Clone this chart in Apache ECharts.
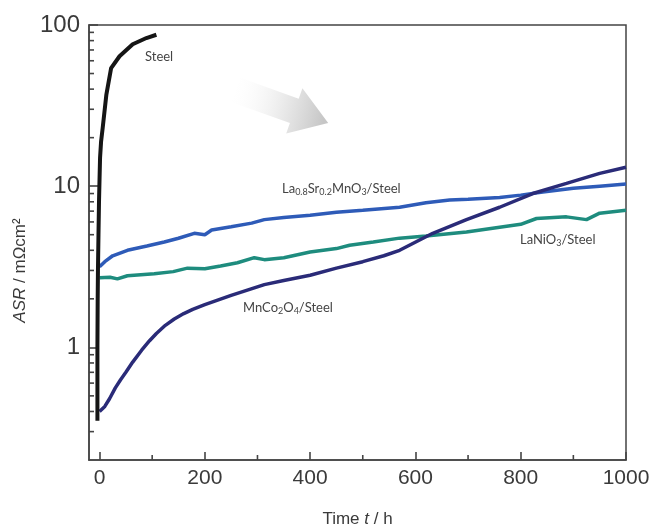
<!DOCTYPE html>
<html>
<head>
<meta charset="utf-8">
<script src="https://cdn.jsdelivr.net/npm/echarts@6/dist/echarts.min.js"></script>
<style>
  html, body { margin: 0; padding: 0; background: #fff; }
  #chart { width: 656px; height: 527px; }
</style>
</head>
<body>
<div id="chart"></div>
<script>
// axis ranges / ticks
var xMin = -20
var xMax = 1000
var yMin = 0.2
var yMax = 100
var xTicks = [0, 200, 400, 600, 800, 1000]
var xMinorTicks = [100, 300, 500, 700, 900]
var yTicks = [1, 10, 100]
var yMinorTicks = [0.3, 0.4, 0.5, 0.6, 0.7, 0.8, 0.9, 2, 3, 4, 5, 6, 7, 8, 9, 20, 30, 40, 50, 60, 70, 80, 90]

// Steel
var steelT = [-4, -4, -3.5, -3, -2, -1, 0, 1, 3, 6, 13, 22, 38, 63, 89, 108]
var steelASR = [0.35, 1, 2, 3, 5, 8, 11, 15, 19, 23, 37, 54, 64, 76, 83, 87]

// La0.8Sr0.2MnO3/Steel
var lsmT = [0, 10, 25, 53, 90, 123, 150, 180, 200, 213, 250, 289, 313, 350, 400, 450, 500, 570, 620, 665, 700, 760, 800, 842, 900, 950, 1000]
var lsmASR = [3.16, 3.4, 3.7, 4.0, 4.25, 4.5, 4.75, 5.1, 5.0, 5.35, 5.6, 5.9, 6.2, 6.4, 6.6, 6.9, 7.1, 7.4, 7.9, 8.2, 8.3, 8.5, 8.8, 9.2, 9.7, 10.0, 10.3]

// LaNiO3/Steel
var lnoT = [0, 20, 34, 53, 104, 140, 167, 200, 230, 262, 294, 313, 350, 400, 450, 475, 520, 570, 620, 697, 750, 800, 830, 887, 925, 950, 1000]
var lnoASR = [2.7, 2.72, 2.66, 2.78, 2.86, 2.95, 3.1, 3.07, 3.2, 3.35, 3.6, 3.5, 3.6, 3.9, 4.1, 4.3, 4.5, 4.76, 4.9, 5.2, 5.5, 5.8, 6.3, 6.45, 6.2, 6.8, 7.1]

// MnCo2O4/Steel
var mcoT = [0, 10, 19, 30, 40, 50, 63, 80, 95, 108, 125, 142, 160, 177, 200, 250, 313, 350, 400, 450, 500, 540, 570, 633, 697, 760, 823, 887, 950, 1000]
var mcoASR = [0.40, 0.43, 0.48, 0.56, 0.63, 0.70, 0.81, 0.96, 1.1, 1.22, 1.37, 1.5, 1.62, 1.72, 1.84, 2.1, 2.45, 2.6, 2.8, 3.1, 3.4, 3.7, 4.0, 5.1, 6.2, 7.4, 9.0, 10.4, 12.0, 13.1]

function pairs (ts, vs) {
  return ts.map(function (t, i) { return [t, vs[i]] })
}

var axisColor = '#444'
var labelColor = '#3a3a3a'

function lineSeries (name, ts, vs, color, width) {
  return {
    name: name,
    type: 'line',
    data: pairs(ts, vs),
    showSymbol: false,
    lineStyle: { color: color, width: width },
    z: 3
  }
}

// small inward ticks drawn through the axes' own scales
function minorTickSeries (data, vertical) {
  return {
    type: 'custom',
    silent: true,
    clip: false,
    data: data,
    encode: { x: 0, y: 1 },
    renderItem: function (params, api) {
      var p = api.coord([api.value(0), api.value(1)])
      return {
        type: 'line',
        shape: vertical
          ? { x1: p[0], y1: p[1], x2: p[0], y2: p[1] - 5 }
          : { x1: p[0], y1: p[1], x2: p[0] + 5, y2: p[1] },
        style: { stroke: axisColor, lineWidth: 1.6 }
      }
    },
    z: 4
  }
}

var subStyle = { fontSize: 9, fontFamily: 'Lato', fill: '#444', padding: [7, 0, 0, 0] }

function note (x, y, text) {
  return {
    type: 'text',
    x: x,
    y: y,
    style: {
      text: text,
      font: '13px Lato',
      fill: '#444',
      verticalAlign: 'middle',
      rich: { s: subStyle }
    }
  }
}

var chart = echarts.init(document.getElementById('chart'))
var option = {
  animation: false,
  backgroundColor: '#fff',
  grid: {
    left: 89,
    right: 30,
    top: 25,
    bottom: 67,
    outerBoundsMode: 'none',
    containLabel: false,
    show: true,
    borderColor: axisColor,
    borderWidth: 1.5
  },
  xAxis: {
    type: 'value',
    min: xMin,
    max: xMax,
    name: 'Time {i|t} / h',
    nameLocation: 'middle',
    nameGap: 51,
    nameTextStyle: {
      fontFamily: 'Liberation Sans',
      fontSize: 17,
      color: labelColor,
      rich: { i: { fontStyle: 'italic', fontFamily: 'Liberation Sans', fontSize: 17, color: labelColor } }
    },
    axisLine: { onZero: false, lineStyle: { color: axisColor, width: 1.5 } },
    axisTick: { inside: true, length: 8, customValues: xTicks, lineStyle: { color: axisColor, width: 1.6 } },
    axisLabel: {
      customValues: xTicks,
      formatter: function (v) { return String(v) },
      fontFamily: 'Liberation Sans',
      fontSize: 21,
      color: labelColor,
      margin: 8
    },
    splitLine: { show: false }
  },
  yAxis: {
    type: 'log',
    logBase: 10,
    min: yMin,
    max: yMax,
    name: '{i|ASR} / mΩcm²',
    nameLocation: 'middle',
    nameGap: 60,
    nameRotate: 90,
    nameTextStyle: {
      fontFamily: 'Liberation Sans',
      fontSize: 17,
      color: labelColor,
      padding: [0, 56, 0, 0],
      rich: { i: { fontStyle: 'italic', fontFamily: 'Liberation Sans', fontSize: 17, color: labelColor } }
    },
    axisLine: { show: true, onZero: false, lineStyle: { color: axisColor, width: 1.5 } },
    axisTick: { show: true, inside: true, length: 9, customValues: yTicks, lineStyle: { color: axisColor, width: 1.6 } },
    axisLabel: {
      customValues: yTicks,
      formatter: function (v) { return String(v) },
      fontFamily: 'Liberation Sans',
      fontSize: 24,
      color: labelColor,
      margin: 9
    },
    splitLine: { show: false }
  },
  graphic: [
    {
      // faded arrow
      type: 'polygon',
      shape: {
        points: [[240.4, 77.8], [298.7, 98.7], [302.4, 88.3], [328.2, 123.0], [286.2, 133.5], [289.9, 123.1], [231.6, 102.2]]
      },
      style: {
        fill: new echarts.graphic.LinearGradient(0, 0, 1, 0.4, [
          { offset: 0, color: 'rgba(255,255,255,0)' },
          { offset: 0.5, color: 'rgba(235,235,235,0.8)' },
          { offset: 1, color: '#c6c6c6' }
        ])
      },
      z: 1
    },
    note(145, 57, 'Steel'),
    note(282, 189, 'La{s|0.8}Sr{s|0.2}MnO{s|3}/Steel'),
    note(520, 240, 'LaNiO{s|3}/Steel'),
    note(243, 308, 'MnCo{s|2}O{s|4}/Steel')
  ],
  series: [
    lineSeries('LaNiO3/Steel', lnoT, lnoASR, '#1e8c7e', 3.5),
    lineSeries('La0.8Sr0.2MnO3/Steel', lsmT, lsmASR, '#2e5bb8', 3.5),
    lineSeries('MnCo2O4/Steel', mcoT, mcoASR, '#2a2b78', 3.5),
    lineSeries('Steel', steelT, steelASR, '#151515', 4),
    minorTickSeries(yMinorTicks.map(function (v) { return [xMin, v] }), false),
    minorTickSeries(xMinorTicks.map(function (t) { return [t, yMin] }), true)
  ]
}
chart.setOption(option)
</script>
</body>
</html>
